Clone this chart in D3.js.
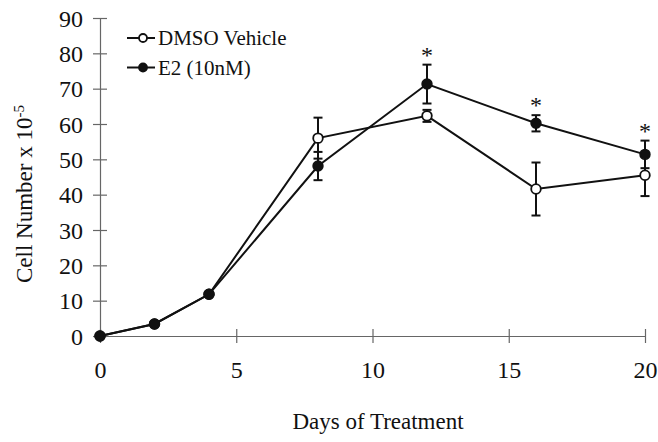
<!DOCTYPE html>
<html>
<head>
<meta charset="utf-8">
<script src="https://cdn.jsdelivr.net/npm/d3@7"></script>
<style>
  body { margin: 0; background: #fff; }
  svg { font-family: "Liberation Serif", "Times New Roman", serif; }
  .axis path, .axis line { stroke: #666; stroke-width: 1.2; }
  .axis text { font-size: 24px; fill: #111; font-family: "Liberation Serif", serif; }
  .series { fill: none; stroke: #111; stroke-width: 2; }
  .err { stroke: #111; stroke-width: 2; }
</style>
</head>
<body>
<div id="chart"></div>
<script>
(function () {
  // values
  const days = [0, 2, 4, 8, 12, 16, 20];
  const dmso = [0, 3.4, 11.8, 56.0, 62.3, 41.6, 45.5];
  const dmsoErr = [0, 0, 0, 5.8, 1.7, 7.5, 5.9];
  const e2 = [0, 3.4, 11.8, 48.1, 71.3, 60.2, 51.4];
  const e2Err = [0, 0, 0, 4.0, 5.5, 2.3, 3.9];
  const starDays = [12, 16, 20];
  const xTicks = [0, 5, 10, 15, 20];
  const yTicks = [0, 10, 20, 30, 40, 50, 60, 70, 80, 90];
  const seriesNames = ['DMSO Vehicle', 'E2 (10nM)'];

  const width = 658;
  const height = 442;
  const margin = {top: 18, right: 13, bottom: 106, left: 100};

  const x = d3.scaleLinear()
    .domain([0, 20])
    .range([margin.left, width - margin.right]);
  const y = d3.scaleLinear()
    .domain([0, 90])
    .range([height - margin.bottom, margin.top]);

  const svg = d3.select("#chart").append("svg")
    .attr("width", width)
    .attr("height", height);

  // axes, with ticks crossing the axis line
  svg.append("g")
    .attr("class", "axis")
    .attr("transform", "translate(0," + y(0) + ")")
    .call(d3.axisBottom(x).tickValues(xTicks).tickSizeOuter(0).tickSizeInner(7))
    .call(g => g.selectAll(".tick line").attr("y1", -7).attr("y2", 7))
    .call(g => g.selectAll(".tick text").attr("y", 42).attr("dy", 0));

  svg.append("g")
    .attr("class", "axis")
    .attr("transform", "translate(" + x(0) + ",0)")
    .call(d3.axisLeft(y).tickValues(yTicks).tickSizeOuter(0).tickSizeInner(7))
    .call(g => g.selectAll(".tick line").attr("x1", -7).attr("x2", 7))
    .call(g => g.selectAll(".tick text").attr("x", -17).attr("dy", "0.34em"));

  svg.selectAll(".axis .domain").attr("stroke", "#666");

  const line = d3.line()
    .x(function (d) { return x(d.day); })
    .y(function (d) { return y(d.v); });

  const series = [dmso, e2].map(function (vals, i) {
    const errs = i === 0 ? dmsoErr : e2Err;
    return days.map(function (day, j) {
      return {day: day, v: vals[j], e: errs[j]};
    });
  });

  series.forEach(function (s) {
    svg.append("path")
      .attr("class", "series")
      .attr("d", line(s));
  });

  // error bars
  series.forEach(function (s) {
    const bars = s.filter(function (d) { return d.e > 0; });
    const g = svg.append("g").attr("class", "err");
    g.selectAll("line.v").data(bars).join("line")
      .attr("x1", d => x(d.day)).attr("x2", d => x(d.day))
      .attr("y1", d => y(d.v - d.e)).attr("y2", d => y(d.v + d.e));
    g.selectAll("line.t").data(bars).join("line")
      .attr("x1", d => x(d.day) - 4.5).attr("x2", d => x(d.day) + 4.5)
      .attr("y1", d => y(d.v + d.e)).attr("y2", d => y(d.v + d.e));
    g.selectAll("line.b").data(bars).join("line")
      .attr("x1", d => x(d.day) - 4.5).attr("x2", d => x(d.day) + 4.5)
      .attr("y1", d => y(d.v - d.e)).attr("y2", d => y(d.v - d.e));
  });

  // markers
  series.forEach(function (s, i) {
    svg.append("g").selectAll("circle").data(s).join("circle")
      .attr("cx", d => x(d.day))
      .attr("cy", d => y(d.v))
      .attr("r", 4.8)
      .attr("fill", i === 0 ? "#fff" : "#111")
      .attr("stroke", "#111")
      .attr("stroke-width", 1.8);
  });

  // significance stars above E2 error bars
  svg.append("g").selectAll("text")
    .data(series[1].filter(d => starDays.indexOf(d.day) >= 0))
    .join("text")
    .attr("x", d => x(d.day))
    .attr("y", d => y(d.v + d.e) - 2)
    .attr("text-anchor", "middle")
    .attr("font-size", 24)
    .attr("fill", "#111")
    .text("*");

  // legend
  const legend = svg.append("g");
  seriesNames.forEach(function (name, i) {
    const ly = 38 + i * 29.5;
    legend.append("line")
      .attr("x1", 127).attr("x2", 155)
      .attr("y1", ly).attr("y2", ly)
      .attr("stroke", "#111").attr("stroke-width", 2);
    legend.append("circle")
      .attr("cx", 143).attr("cy", ly).attr("r", 4)
      .attr("fill", i === 0 ? "#fff" : "#111")
      .attr("stroke", "#111").attr("stroke-width", 1.8);
    legend.append("text")
      .attr("x", 158).attr("y", ly)
      .attr("dy", "0.34em")
      .attr("font-size", 21)
      .attr("fill", "#111")
      .text(name);
  });

  // axis titles
  svg.append("text")
    .attr("x", 378)
    .attr("y", 429)
    .attr("text-anchor", "middle")
    .attr("font-size", 23)
    .attr("fill", "#111")
    .text("Days of Treatment");

  const yTitle = svg.append("text")
    .attr("transform", "translate(32,194) rotate(-90)")
    .attr("text-anchor", "middle")
    .attr("font-size", 23)
    .attr("fill", "#111");
  yTitle.append("tspan").text("Cell Number x 10");
  yTitle.append("tspan").attr("dy", "-0.55em").attr("font-size", 15).text("-5");
})();
</script>
</body>
</html>
